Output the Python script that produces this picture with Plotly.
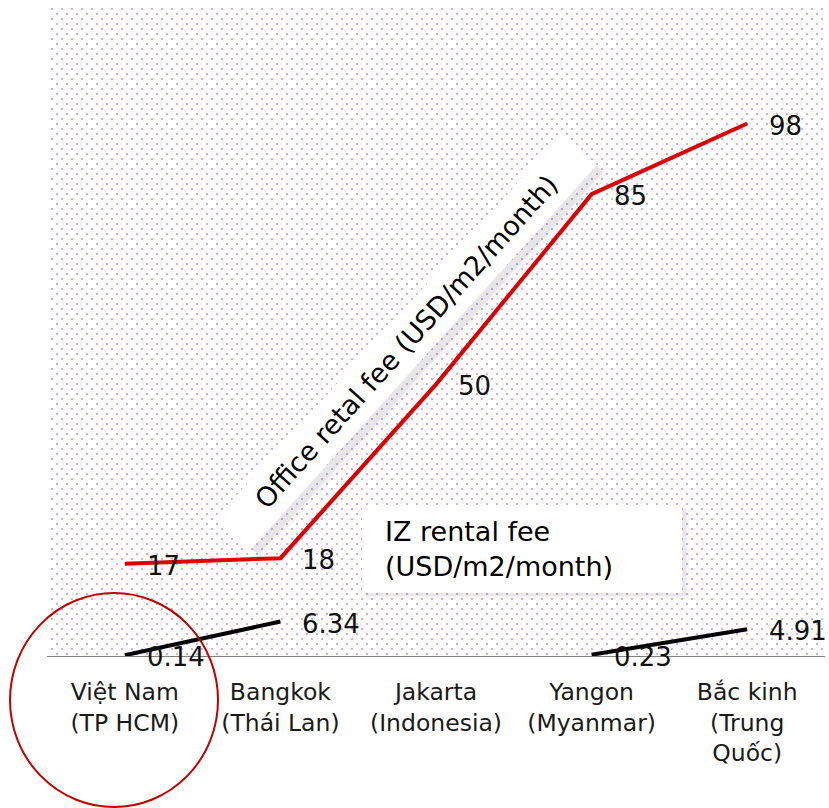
import plotly.graph_objects as go

# ---- data ----
categories = ["Việt Nam", "Bangkok", "Jakarta", "Yangon", "Bắc kinh"]
tick_labels = ["Việt Nam<br>(TP HCM)", "Bangkok<br>(Thái Lan)", "Jakarta<br>(Indonesia)",
               "Yangon<br>(Myanmar)", "Bắc kinh<br>(Trung<br>Quốc)"]
office_fee = [17, 18, 50, 85, 98]
iz_fee = [0.14, 6.34, None, 0.23, 4.91]
office_text = ["17", "18", "50", "85", "98"]
iz_text = ["0.14", "6.34", "", "0.23", "4.91"]

FONT = "DejaVu Sans"
W_FIG, H_FIG = 829, 808
L, R, T, B = 47, 4, 4, 152
W = W_FIG - L - R
H = H_FIG - T - B


def px(x):
    return (x - L) / W


def py(y):
    return (T + H - y) / H


fig = go.Figure()

# dotted backdrop: two square-dot pattern fills, the second offset half a tile
dot = dict(shape=".", size=10, solidity=0.03, fgcolor="#7436b8")
square = dict(x=[0, 1, 1, 0, 0], y=[0, 0, 1, 1, 0])
fig.add_trace(go.Scatter(**square, fill="toself", mode="none", fillcolor="rgba(0,0,0,0)",
                         fillpattern=dot, xaxis="x", yaxis="y", hoverinfo="skip"))
fig.add_trace(go.Scatter(**square, fill="toself", mode="none", fillcolor="rgba(0,0,0,0)",
                         fillpattern=dot, xaxis="x2", yaxis="y2", hoverinfo="skip"))

# rental fee lines
fig.add_trace(go.Scatter(x=categories, y=office_fee, mode="lines", xaxis="x3", yaxis="y3",
                         line=dict(color="#dc0000", width=4), name="Office",
                         connectgaps=False))
fig.add_trace(go.Scatter(x=categories, y=iz_fee, mode="lines", xaxis="x3", yaxis="y3",
                         line=dict(color="#000000", width=4), name="IZ",
                         connectgaps=False))

annotations = []
for cat, v, t in zip(categories, office_fee, office_text):
    annotations.append(dict(x=cat, y=v, xref="x3", yref="y3", text=t, showarrow=False,
                            xanchor="left", yanchor="middle", xshift=20, yshift=-2,
                            font=dict(family=FONT, size=26, color="#111111")))
for cat, v, t in zip(categories, iz_fee, iz_text):
    if v is None:
        continue
    annotations.append(dict(x=cat, y=v, xref="x3", yref="y3", text=t, showarrow=False,
                            xanchor="left", yanchor="middle", xshift=20, yshift=-2,
                            font=dict(family=FONT, size=26, color="#111111")))

# rotated caption band for the office series (with a soft shadow)
band_cx, band_cy, band_len, band_thk, band_ang = 406, 342, 515, 46, -48
for dx, dy, col in [(10, 9, "rgba(0,0,0,0.04)"), (7, 6, "rgba(0,0,0,0.06)")]:
    annotations.append(dict(x=px(band_cx + dx), y=py(band_cy + dy), xref="paper", yref="paper",
                            text=" ", showarrow=False, textangle=band_ang, width=band_len,
                            height=band_thk, bgcolor=col, borderpad=0,
                            font=dict(family=FONT, size=27)))
annotations.append(dict(x=px(band_cx), y=py(band_cy), xref="paper", yref="paper",
                        text="Office retal fee (USD/m2/month)", showarrow=False,
                        textangle=band_ang, width=band_len, height=band_thk,
                        bgcolor="#ffffff", borderpad=0,
                        font=dict(family=FONT, size=27, color="#000000")))

# caption box for the IZ series
annotations.append(dict(x=px(383), y=py(549), xref="paper", yref="paper",
                        text="IZ rental fee<br>(USD/m2/month)", showarrow=False,
                        xanchor="left", yanchor="middle", align="left",
                        font=dict(family=FONT, size=27, color="#000000")))

shapes = [
    dict(type="rect", xref="paper", yref="paper", x0=px(366), x1=px(689), y0=py(599), y1=py(509),
         fillcolor="rgba(0,0,0,0.04)", line=dict(width=0), layer="above"),
    dict(type="rect", xref="paper", yref="paper", x0=px(364), x1=px(686), y0=py(596), y1=py(507),
         fillcolor="rgba(0,0,0,0.05)", line=dict(width=0), layer="above"),
    dict(type="rect", xref="paper", yref="paper", x0=px(362), x1=px(682), y0=py(593), y1=py(505),
         fillcolor="#ffffff", line=dict(width=0), layer="above"),
    # highlight ring around the Vietnam label
    dict(type="circle", xref="paper", yref="paper", x0=px(10), x1=px(218), y0=py(807), y1=py(593),
         line=dict(color="#c00000", width=2), fillcolor="rgba(0,0,0,0)", layer="above"),
]

hidden = dict(visible=False, fixedrange=True, range=[0, 1])
fig.update_layout(
    width=W_FIG, height=H_FIG,
    margin=dict(l=L, r=R, t=T, b=B, pad=0),
    paper_bgcolor="#ffffff", plot_bgcolor="rgba(0,0,0,0)",
    showlegend=False,
    font=dict(family=FONT, color="#1a1a1a"),
    xaxis=dict(domain=[0, 1], anchor="y", **hidden),
    yaxis=dict(domain=[0, 1], anchor="x", **hidden),
    xaxis2=dict(domain=[5 / W, 1], anchor="y2", **hidden),
    yaxis2=dict(domain=[0, 1 - 5 / H], anchor="x2", **hidden),
    xaxis3=dict(domain=[0, 1], anchor="y3", type="category", categoryorder="array",
                categoryarray=categories, range=[-0.5, 4.5],
                tickvals=categories, ticktext=tick_labels,
                showline=True, linecolor="#808080", linewidth=1,
                showgrid=False, zeroline=False, ticks="", ticklabelstandoff=15,
                tickfont=dict(family=FONT, size=23.5, color="#1a1a1a")),
    yaxis3=dict(domain=[0, 1], anchor="x3", range=[0, 120], visible=False,
                showgrid=False, zeroline=False),
    annotations=annotations,
    shapes=shapes,
)

fig.write_html("out.html")
